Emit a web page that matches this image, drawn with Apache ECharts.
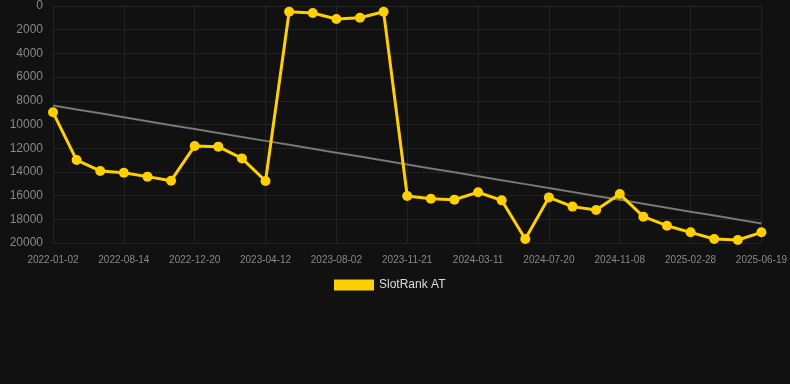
<!DOCTYPE html>
<html>
<head>
<meta charset="utf-8">
<script src="https://cdn.jsdelivr.net/npm/echarts@6/dist/echarts.min.js"></script>
<style>
html,body{margin:0;padding:0;background:#111111;}
#c{width:790px;height:384px;}
</style>
</head>
<body>
<div id="c"></div>
<script>
var categories = ["2022-01-02","2022-03-18","2022-06-01","2022-08-14","2022-09-26","2022-11-08","2022-12-20","2023-01-27","2023-03-05","2023-04-12","2023-05-19","2023-06-25","2023-08-02","2023-09-08","2023-10-15","2023-11-21","2023-12-28","2024-02-03","2024-03-11","2024-04-24","2024-06-06","2024-07-20","2024-08-26","2024-10-02","2024-11-08","2024-12-15","2025-01-21","2025-02-28","2025-04-06","2025-05-13","2025-06-19"];
var rankValues = [8970,13000,13920,14070,14400,14740,11810,11870,12860,14770,480,590,1100,990,480,16030,16260,16340,15720,16400,19660,16150,16930,17220,15870,17780,18540,19100,19660,19750,19100];
var seriesName = "SlotRank AT";
var yTicks = {min:0, max:20000, interval:2000};

// least squares trend line
var n = rankValues.length, sx=0, sy=0, sxy=0, sxx=0;
for (var i=0;i<n;i++){sx+=i;sy+=rankValues[i];sxy+=i*rankValues[i];sxx+=i*i;}
var slope=(n*sxy-sx*sy)/(n*sxx-sx*sx);
var icpt=(sy-slope*sx)/n;
var trend = rankValues.map(function(_,i){return +(icpt+slope*i).toFixed(1);});

var chart = echarts.init(document.getElementById('c'));
chart.setOption({
  backgroundColor:'#111111',
  animation:false,
  grid:{left:53,right:28,top:6,bottom:141,containLabel:false},
  legend:{
    data:[{name:seriesName,icon:'rect'}],
    bottom:88,left:329,
    itemWidth:40,itemHeight:11,
    textStyle:{color:'#dddddd',fontSize:12,fontFamily:'Arial, Liberation Sans, sans-serif'}
  },
  xAxis:{
    type:'category',data:categories,boundaryGap:false,
    axisLine:{show:true,lineStyle:{color:'#262626'}},
    axisTick:{show:false},
    axisLabel:{interval:2,color:'#888888',fontSize:10,margin:12,fontFamily:'Arial, Liberation Sans, sans-serif'},
    splitLine:{show:true,interval:2,lineStyle:{color:'#222222'}}
  },
  yAxis:{
    type:'value',inverse:true,min:yTicks.min,max:yTicks.max,interval:yTicks.interval,
    axisLine:{show:false},axisTick:{show:false},
    axisLabel:{color:'#888888',fontSize:12,margin:10,formatter:function(v){return String(v);},fontFamily:'Arial, Liberation Sans, sans-serif'},
    splitLine:{show:true,lineStyle:{color:'#222222'}}
  },
  series:[
    {name:seriesName,type:'line',data:rankValues,color:'#FFD000',
     lineStyle:{width:3,color:'#FFD000'},symbol:'circle',symbolSize:10,
     itemStyle:{color:'#FFD000'},z:3},
    {name:'trend',type:'line',data:trend,symbol:'none',
     lineStyle:{width:2,color:'#777777'},itemStyle:{color:'#777777'},z:2}
  ]
});
</script>
</body>
</html>
